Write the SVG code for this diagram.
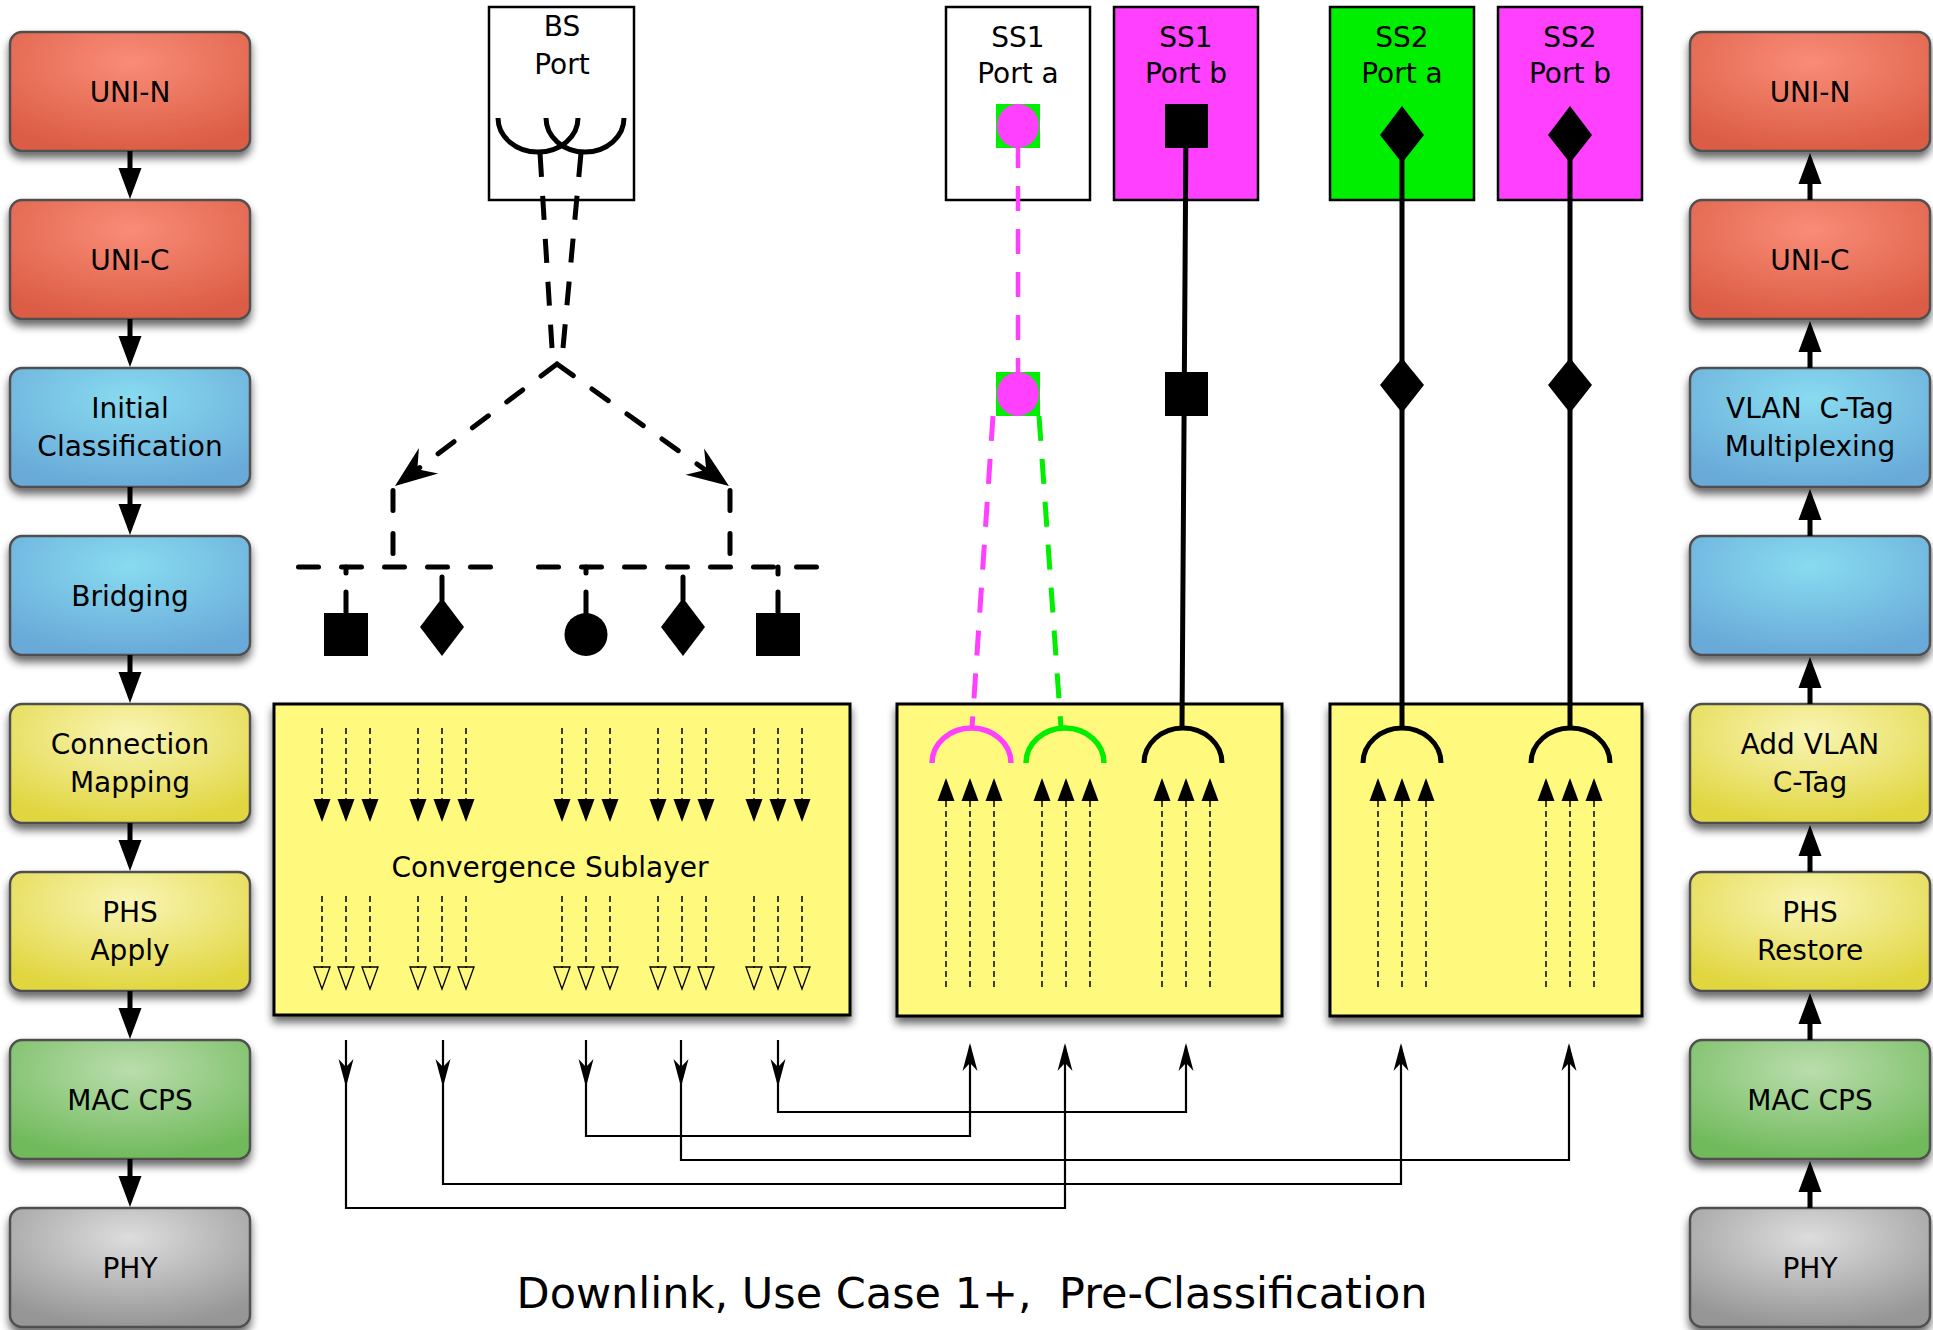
<svg xmlns="http://www.w3.org/2000/svg" xmlns:xlink="http://www.w3.org/1999/xlink" width="1933" height="1330" viewBox="0 0 1933 1330">
<style>
text{font-family:"DejaVu Sans","Liberation Sans",sans-serif;fill:#000;text-anchor:middle}
.lbl{font-size:28px}
.box{stroke:#505050;stroke-width:2.5}
.port{stroke:#000;stroke-width:2.5}
.cs{fill:#FFFA7E;stroke:#000;stroke-width:3}
.thick{fill:none;stroke:#000;stroke-width:5}
.bdash{fill:none;stroke:#000;stroke-width:5;stroke-dasharray:20 23;stroke-linecap:round}
.vdash{fill:none;stroke:#000;stroke-width:5;stroke-dasharray:24 19}
.fine{fill:none;stroke:#000;stroke-width:1.5;stroke-dasharray:6 4}
.route{fill:none;stroke:#000;stroke-width:2.2}
.colarrow{stroke:#000;stroke-width:5}
</style>
<defs>
<radialGradient id="gRed" cx="50%" cy="25%" r="75%"><stop offset="0" stop-color="#F98C78"/><stop offset="1" stop-color="#DC5D44"/></radialGradient>
<radialGradient id="gBlue" cx="50%" cy="25%" r="75%"><stop offset="0" stop-color="#88DBF0"/><stop offset="1" stop-color="#69AAD9"/></radialGradient>
<radialGradient id="gYel" cx="50%" cy="25%" r="75%"><stop offset="0" stop-color="#F9F5B4"/><stop offset="1" stop-color="#E1D641"/></radialGradient>
<radialGradient id="gGrn" cx="50%" cy="25%" r="75%"><stop offset="0" stop-color="#BADDAD"/><stop offset="1" stop-color="#70BA5B"/></radialGradient>
<radialGradient id="gGry" cx="50%" cy="25%" r="75%"><stop offset="0" stop-color="#DDDDDD"/><stop offset="1" stop-color="#969696"/></radialGradient>
<filter id="sh" x="-10%" y="-10%" width="120%" height="140%">
<feGaussianBlur in="SourceAlpha" stdDeviation="4"/>
<feOffset dy="6"/>
<feComponentTransfer><feFuncA type="linear" slope="0.6"/></feComponentTransfer>
<feMerge><feMergeNode/><feMergeNode in="SourceGraphic"/></feMerge>
</filter>
<path id="tdn" d="M-8.5,0 L8.5,0 L0,23 Z" fill="#000"/>
<path id="tdnO" d="M-8,0 L8,0 L0,22 Z" fill="none" stroke="#000" stroke-width="1.3"/>
<path id="tup" d="M-8.5,0 L8.5,0 L0,-23 Z" fill="#000"/>
<path id="sdn" d="M0,0 L-7.5,-28 L0,-20 L7.5,-28 Z" fill="#000"/>
<path id="sup" d="M0,0 L-7.5,28 L0,20 L7.5,28 Z" fill="#000"/>
<path id="cdn" d="M0,0 L-11.5,-31 L11.5,-31 Z" fill="#000"/>
<path id="cup" d="M0,0 L-11.5,31 L11.5,31 Z" fill="#000"/>
<path id="vhead" d="M0,0 L-42,-16 L-28,0 L-42,16 Z" fill="#000"/>
</defs>
<rect width="1933" height="1330" fill="#fff"/>

<!-- Left column -->
<g id="l-uni-n"><rect class="box" filter="url(#sh)" fill="url(#gRed)" x="10" y="32" width="240" height="119" rx="12"/><text class="lbl" x="130" y="102">UNI-N</text></g>
<g id="l-uni-c"><rect class="box" filter="url(#sh)" fill="url(#gRed)" x="10" y="200" width="240" height="119" rx="12"/><text class="lbl" x="130" y="270">UNI-C</text></g>
<g id="l-init"><rect class="box" filter="url(#sh)" fill="url(#gBlue)" x="10" y="368" width="240" height="119" rx="12"/><text class="lbl" x="130" y="418">Initial</text><text class="lbl" x="130" y="456">Classification</text></g>
<g id="l-bridging"><rect class="box" filter="url(#sh)" fill="url(#gBlue)" x="10" y="536" width="240" height="119" rx="12"/><text class="lbl" x="130" y="606">Bridging</text></g>
<g id="l-connmap"><rect class="box" filter="url(#sh)" fill="url(#gYel)" x="10" y="704" width="240" height="119" rx="12"/><text class="lbl" x="130" y="754">Connection</text><text class="lbl" x="130" y="792">Mapping</text></g>
<g id="l-phs"><rect class="box" filter="url(#sh)" fill="url(#gYel)" x="10" y="872" width="240" height="119" rx="12"/><text class="lbl" x="130" y="922">PHS</text><text class="lbl" x="130" y="960">Apply</text></g>
<g id="l-mac"><rect class="box" filter="url(#sh)" fill="url(#gGrn)" x="10" y="1040" width="240" height="119" rx="12"/><text class="lbl" x="130" y="1110">MAC CPS</text></g>
<g id="l-phy"><rect class="box" filter="url(#sh)" fill="url(#gGry)" x="10" y="1208" width="240" height="119" rx="12"/><text class="lbl" x="130" y="1278">PHY</text></g>

<!-- Right column -->
<g id="r-uni-n"><rect class="box" filter="url(#sh)" fill="url(#gRed)" x="1690" y="32" width="240" height="119" rx="12"/><text class="lbl" x="1810" y="102">UNI-N</text></g>
<g id="r-uni-c"><rect class="box" filter="url(#sh)" fill="url(#gRed)" x="1690" y="200" width="240" height="119" rx="12"/><text class="lbl" x="1810" y="270">UNI-C</text></g>
<g id="r-vlan"><rect class="box" filter="url(#sh)" fill="url(#gBlue)" x="1690" y="368" width="240" height="119" rx="12"/><text class="lbl" x="1810" y="418" xml:space="preserve">VLAN  C-Tag</text><text class="lbl" x="1810" y="456">Multiplexing</text></g>
<g id="r-blank"><rect class="box" filter="url(#sh)" fill="url(#gBlue)" x="1690" y="536" width="240" height="119" rx="12"/></g>
<g id="r-addvlan"><rect class="box" filter="url(#sh)" fill="url(#gYel)" x="1690" y="704" width="240" height="119" rx="12"/><text class="lbl" x="1810" y="754">Add VLAN</text><text class="lbl" x="1810" y="792">C-Tag</text></g>
<g id="r-phs"><rect class="box" filter="url(#sh)" fill="url(#gYel)" x="1690" y="872" width="240" height="119" rx="12"/><text class="lbl" x="1810" y="922">PHS</text><text class="lbl" x="1810" y="960">Restore</text></g>
<g id="r-mac"><rect class="box" filter="url(#sh)" fill="url(#gGrn)" x="1690" y="1040" width="240" height="119" rx="12"/><text class="lbl" x="1810" y="1110">MAC CPS</text></g>
<g id="r-phy"><rect class="box" filter="url(#sh)" fill="url(#gGry)" x="1690" y="1208" width="240" height="119" rx="12"/><text class="lbl" x="1810" y="1278">PHY</text></g>

<!-- Ports -->
<g id="bs-port">
<rect class="port" fill="#fff" x="489" y="7" width="145" height="193"/>
<text class="lbl" x="562" y="36">BS</text><text class="lbl" x="562" y="74">Port</text>
<path class="thick" d="M498,118 A40,34 0 0 0 578,118"/>
<path class="thick" d="M546,118 A39,34 0 0 0 624,118"/>
</g>
<g id="ss1-port-a">
<rect class="port" fill="#fff" x="946" y="7" width="144" height="193"/>
<text class="lbl" x="1018" y="47">SS1</text><text class="lbl" x="1018" y="83">Port a</text>
</g>
<g id="ss1-port-b">
<rect class="port" fill="#FF40FF" x="1114" y="7" width="144" height="193"/>
<text class="lbl" x="1186" y="47">SS1</text><text class="lbl" x="1186" y="83">Port b</text>
</g>
<g id="ss2-port-a">
<rect class="port" fill="#00EE00" x="1330" y="7" width="144" height="193"/>
<text class="lbl" x="1402" y="47">SS2</text><text class="lbl" x="1402" y="83">Port a</text>
</g>
<g id="ss2-port-b">
<rect class="port" fill="#FF40FF" x="1498" y="7" width="144" height="193"/>
<text class="lbl" x="1570" y="47">SS2</text><text class="lbl" x="1570" y="83">Port b</text>
</g>

<!-- Convergence sublayer boxes -->
<g id="cs-bs">
<rect class="cs" filter="url(#sh)" x="274" y="704" width="576" height="311"/>
<text class="lbl" x="550" y="877">Convergence Sublayer</text>
<g class="fine">
<path d="M322,728V800M346,728V800M370,728V800M418,728V800M442,728V800M466,728V800M562,728V800M586,728V800M610,728V800M658,728V800M682,728V800M706,728V800M754,728V800M778,728V800M802,728V800"/>
<path d="M322,896V968M346,896V968M370,896V968M418,896V968M442,896V968M466,896V968M562,896V968M586,896V968M610,896V968M658,896V968M682,896V968M706,896V968M754,896V968M778,896V968M802,896V968"/>
</g>
<use href="#tdn" x="322" y="799"/><use href="#tdn" x="346" y="799"/><use href="#tdn" x="370" y="799"/>
<use href="#tdn" x="418" y="799"/><use href="#tdn" x="442" y="799"/><use href="#tdn" x="466" y="799"/>
<use href="#tdn" x="562" y="799"/><use href="#tdn" x="586" y="799"/><use href="#tdn" x="610" y="799"/>
<use href="#tdn" x="658" y="799"/><use href="#tdn" x="682" y="799"/><use href="#tdn" x="706" y="799"/>
<use href="#tdn" x="754" y="799"/><use href="#tdn" x="778" y="799"/><use href="#tdn" x="802" y="799"/>
<use href="#tdnO" x="322" y="967"/><use href="#tdnO" x="346" y="967"/><use href="#tdnO" x="370" y="967"/>
<use href="#tdnO" x="418" y="967"/><use href="#tdnO" x="442" y="967"/><use href="#tdnO" x="466" y="967"/>
<use href="#tdnO" x="562" y="967"/><use href="#tdnO" x="586" y="967"/><use href="#tdnO" x="610" y="967"/>
<use href="#tdnO" x="658" y="967"/><use href="#tdnO" x="682" y="967"/><use href="#tdnO" x="706" y="967"/>
<use href="#tdnO" x="754" y="967"/><use href="#tdnO" x="778" y="967"/><use href="#tdnO" x="802" y="967"/>
</g>
<g id="cs-ss1">
<rect class="cs" filter="url(#sh)" x="897" y="704" width="385" height="312"/>
<path class="fine" d="M946,801V987M970,801V987M994,801V987M1042,801V987M1066,801V987M1090,801V987M1162,801V987M1186,801V987M1210,801V987"/>
<use href="#tup" x="946" y="801"/><use href="#tup" x="970" y="801"/><use href="#tup" x="994" y="801"/>
<use href="#tup" x="1042" y="801"/><use href="#tup" x="1066" y="801"/><use href="#tup" x="1090" y="801"/>
<use href="#tup" x="1162" y="801"/><use href="#tup" x="1186" y="801"/><use href="#tup" x="1210" y="801"/>
</g>
<g id="cs-ss2">
<rect class="cs" filter="url(#sh)" x="1330" y="704" width="312" height="312"/>
<path class="fine" d="M1378,801V987M1402,801V987M1426,801V987M1546,801V987M1570,801V987M1594,801V987"/>
<use href="#tup" x="1378" y="801"/><use href="#tup" x="1402" y="801"/><use href="#tup" x="1426" y="801"/>
<use href="#tup" x="1546" y="801"/><use href="#tup" x="1570" y="801"/><use href="#tup" x="1594" y="801"/>
</g>

<!-- Connectors -->
<g id="connectors">
<!-- column arrows -->
<g class="colarrow">
<path d="M130,151V170M130,319V338M130,487V506M130,655V674M130,823V842M130,991V1010M130,1159V1178"/>
<path d="M1810,182V200M1810,350V368M1810,518V536M1810,686V704M1810,854V872M1810,1022V1040M1810,1190V1208"/>
</g>
<use href="#cdn" x="130" y="199"/><use href="#cdn" x="130" y="367"/><use href="#cdn" x="130" y="535"/><use href="#cdn" x="130" y="703"/><use href="#cdn" x="130" y="871"/><use href="#cdn" x="130" y="1039"/><use href="#cdn" x="130" y="1207"/>
<use href="#cup" x="1810" y="153"/><use href="#cup" x="1810" y="321"/><use href="#cup" x="1810" y="489"/><use href="#cup" x="1810" y="657"/><use href="#cup" x="1810" y="825"/><use href="#cup" x="1810" y="993"/><use href="#cup" x="1810" y="1161"/>

<!-- BS classification tree -->
<path class="vdash" d="M540,153L552,348M581,153L563,348"/>
<path class="bdash" d="M557,364L398,484M557,364L725,484"/>
<use href="#vhead" transform="translate(395,486) rotate(143)"/>
<use href="#vhead" transform="translate(729,486) rotate(35.5)"/>
<path class="bdash" d="M393,490.5V567M730,490.5V567M298.5,567H492M538.5,567H817"/>
<g class="thick" stroke-linecap="round">
<path d="M346,567V573M346,592V613M442,577V600M586,567V573M586,592V613M683,577V600M778,567V574M778,592V613"/>
</g>
<g id="bs-shapes" fill="#000">
<rect x="324" y="613" width="44" height="43"/>
<polygon points="442,598 464,627 442,656 420,627"/>
<circle cx="586" cy="634.5" r="21.5"/>
<polygon points="683,598 705,627 683,656 661,627"/>
<rect x="756" y="613" width="44" height="43"/>
</g>

<!-- SS links -->
<path fill="none" stroke="#FF40FF" stroke-width="4.5" stroke-dasharray="25 18" stroke-dashoffset="5" d="M1018,148V372"/>
<path fill="none" stroke="#FF40FF" stroke-width="5" stroke-dasharray="25 18" d="M993,416L972,728"/>
<path fill="none" stroke="#00EE00" stroke-width="5" stroke-dasharray="25 18" d="M1039,416L1061,728"/>
<path class="thick" d="M1186,126L1182,728M1402,135V728M1570,135V728"/>
<g id="ss-symbols">
<rect x="996" y="104" width="44" height="44" fill="#00EE00"/><ellipse cx="1018" cy="126" rx="21" ry="22" fill="#FF40FF"/>
<rect x="996" y="372" width="44" height="44" fill="#00EE00"/><ellipse cx="1018" cy="394" rx="21" ry="22" fill="#FF40FF"/>
<rect x="1165" y="104" width="43" height="44" fill="#000"/>
<rect x="1165" y="372" width="43" height="44" fill="#000"/>
<polygon points="1402,106 1424,135 1402,163 1380,135" fill="#000"/>
<polygon points="1402,358 1424,385 1402,413 1380,385" fill="#000"/>
<polygon points="1570,106 1592,135 1570,163 1548,135" fill="#000"/>
<polygon points="1570,358 1592,385 1570,413 1548,385" fill="#000"/>
</g>
<path fill="none" stroke="#FF40FF" stroke-width="5.5" d="M932,763 A39.5,35 0 0 1 1011,763"/>
<path fill="none" stroke="#00EE00" stroke-width="5.5" d="M1026,763 A39,35 0 0 1 1104,763"/>
<path class="thick" stroke-width="5.5" d="M1144,763 A39,35 0 0 1 1222,763"/>
<path class="thick" stroke-width="5.5" d="M1363,763 A39,35 0 0 1 1441,763"/>
<path class="thick" stroke-width="5.5" d="M1531,763 A39.5,35 0 0 1 1610,763"/>

<!-- bottom routing -->
<path class="route" d="M346,1040V1208H1065V1046"/>
<path class="route" d="M443,1040V1184H1401V1046"/>
<path class="route" d="M586,1040V1136H970V1046"/>
<path class="route" d="M681,1040V1160H1569V1046"/>
<path class="route" d="M778,1040V1112H1186V1046"/>
<use href="#sdn" x="346" y="1087"/><use href="#sdn" x="443" y="1087"/><use href="#sdn" x="586" y="1087"/><use href="#sdn" x="681" y="1087"/><use href="#sdn" x="778" y="1087"/>
<use href="#sup" x="970" y="1043"/><use href="#sup" x="1065" y="1043"/><use href="#sup" x="1186" y="1043"/><use href="#sup" x="1401" y="1043"/><use href="#sup" x="1569" y="1043"/>
</g>

<text id="title" x="972" y="1308" style="font-size:43px" xml:space="preserve">Downlink, Use Case 1+,  Pre-Classification</text>
</svg>
